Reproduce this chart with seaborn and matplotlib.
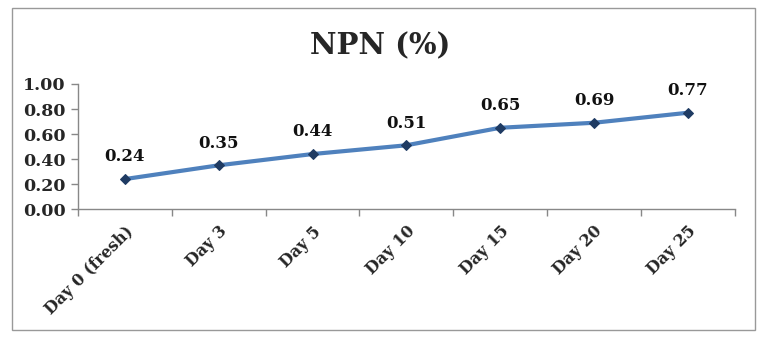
import matplotlib
matplotlib.use("Agg")
import matplotlib.pyplot as plt
import seaborn as sns
import pandas as pd
from matplotlib.patches import Rectangle

categories = ["Day 0 (fresh)", "Day 3", "Day 5", "Day 10", "Day 15", "Day 20", "Day 25"]
npn = [0.24, 0.35, 0.44, 0.51, 0.65, 0.69, 0.77]
yticks = [0.0, 0.2, 0.4, 0.6, 0.8, 1.0]

sns.set_style("white")
plt.rcParams['font.family'] = ['DejaVu Serif']

df = pd.DataFrame({"x": range(len(categories)), "y": npn})

fig = plt.figure(figsize=(7.68, 3.4), dpi=100)
ax = fig.add_axes([0.1016, 0.385, 0.855, 0.368])
sns.lineplot(data=df, x="x", y="y", ax=ax, color="#4f81bd", linewidth=3,
             marker="D", markersize=5, markerfacecolor="#1f3b63", markeredgecolor="#1f3b63")
for i, v in enumerate(npn):
    ax.text(i, v + 0.11, f"{v:.2f}", ha="center", va="bottom", fontsize=12, fontweight="bold", color="#111111")

ax.set_xlim(-0.5, len(categories) - 0.5)
ax.set_ylim(0, 1.0)
ax.set_yticks(yticks)
ax.set_yticklabels([f"{t:.2f}" for t in yticks], fontsize=12.5, fontweight="bold")
ax.set_xticks([i - 0.5 for i in range(len(categories) + 1)])
ax.set_xticklabels([])
ax.set_xticks(range(len(categories)), minor=True)
ax.set_xticklabels(categories, minor=True, rotation=45, ha="right", rotation_mode="anchor",
                   fontsize=11.5, fontweight="bold")
ax.tick_params(axis="x", which="minor", bottom=True, length=0, pad=10)
ax.tick_params(axis="x", which="major", bottom=True, length=5, width=1, color="#888888", direction="out")
ax.tick_params(axis="y", left=True, length=5, width=1, color="#888888", direction="out", pad=4)
ax.set_xlabel("")
ax.set_ylabel("")
for s in ["top", "right"]:
    ax.spines[s].set_visible(False)
for s in ["left", "bottom"]:
    ax.spines[s].set_color("#888888")
    ax.spines[s].set_linewidth(1)

fig.text(0.495, 0.865, "NPN (%)", ha="center", va="center", fontsize=21, fontweight="bold")
fig.patches.append(Rectangle((12/768, 1 - 330/340), (755-12)/768, (330-8)/340,
                             transform=fig.transFigure, fill=False, edgecolor="#999999", linewidth=1))
fig.savefig("out.png", dpi=100)
